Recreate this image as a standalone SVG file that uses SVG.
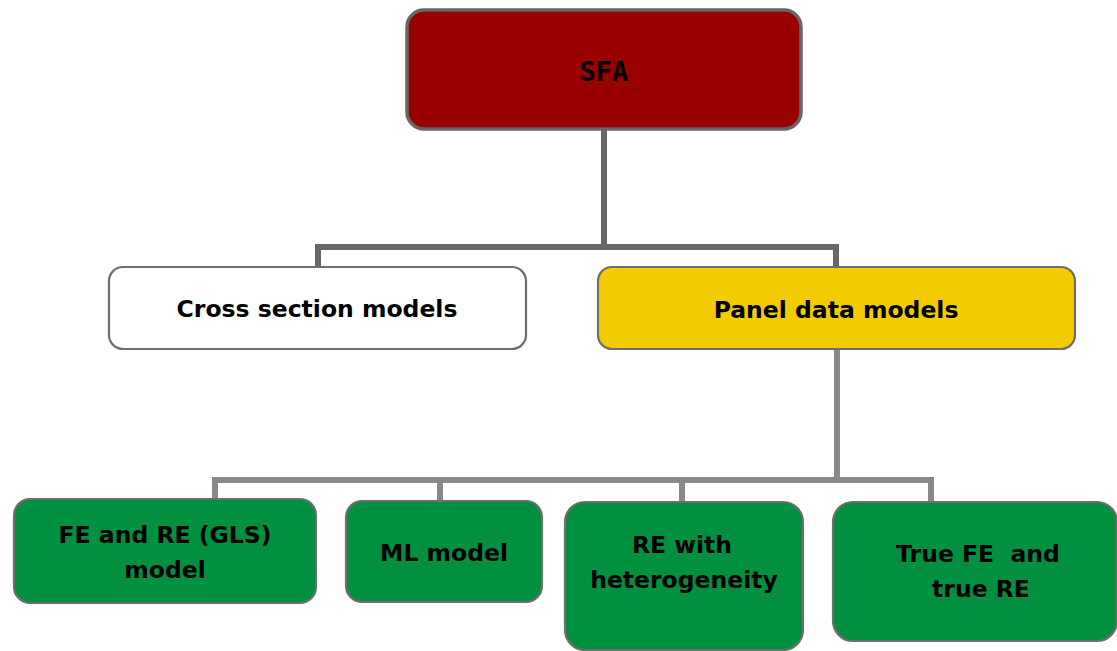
<svg xmlns="http://www.w3.org/2000/svg" width="1117" height="651" viewBox="0 0 1117 651">
<style>
.box{stroke:#6e6e6e;stroke-width:2.2}
.lbl{font-family:"DejaVu Sans",sans-serif;font-weight:bold;font-size:23.5px;fill:#000;text-anchor:middle}
.top{stroke:#676767;stroke-width:6;fill:none}
.bot{stroke:#898989;stroke-width:6;fill:none}
</style>
<rect width="1117" height="651" fill="#fff"/>
<g id="connectors">
<path class="top" d="M604 130V247M318 267V247H836V267"/>
<path class="bot" d="M837 349V480M215 500V480H931V503M440 480V503M682 480V503"/>
</g>
<g id="sfa">
<rect x="407" y="10" width="394" height="119" rx="17" fill="#990000" stroke="#666" stroke-width="3.5"/>
<text x="604" y="81" font-family="DejaVu Sans Mono,monospace" font-weight="bold" font-size="27" text-anchor="middle">SFA</text>
</g>
<g id="cross">
<rect class="box" x="109" y="267" width="417" height="82" rx="14" fill="#fff"/>
<text class="lbl" x="317" y="317">Cross section models</text>
</g>
<g id="panel">
<rect class="box" x="598" y="267" width="477" height="82" rx="14" fill="#f2cc00"/>
<text class="lbl" x="836" y="318">Panel data models</text>
</g>
<g id="fere">
<rect class="box" x="14" y="499" width="302" height="104" rx="16" fill="#009040"/>
<text class="lbl" x="165" y="543">FE and RE (GLS)</text>
<text class="lbl" x="165" y="578">model</text>
</g>
<g id="ml">
<rect class="box" x="346" y="501" width="196" height="101" rx="16" fill="#009040"/>
<text class="lbl" x="444" y="561">ML model</text>
</g>
<g id="rehet">
<rect class="box" x="565" y="502" width="238" height="148" rx="20" fill="#009040"/>
<text class="lbl" x="682" y="553">RE with</text>
<text class="lbl" x="684" y="588">heterogeneity</text>
</g>
<g id="truefe">
<rect class="box" x="833" y="502" width="284" height="139" rx="20" fill="#009040"/>
<text class="lbl" x="978" y="562" xml:space="preserve">True FE  and</text>
<text class="lbl" x="981" y="597">true RE</text>
</g>
</svg>
